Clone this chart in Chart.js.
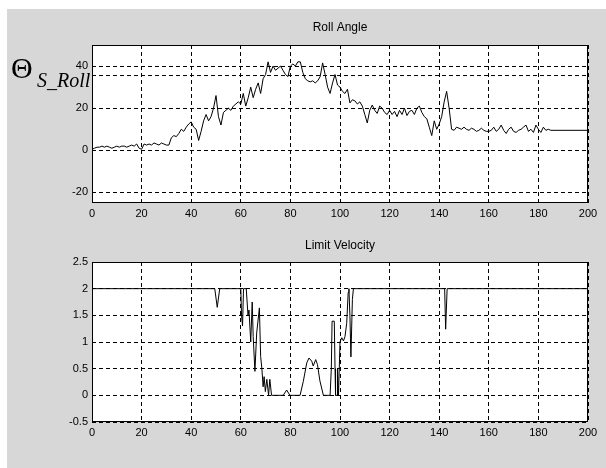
<!DOCTYPE html>
<html><head><meta charset="utf-8">
<script src="https://cdn.jsdelivr.net/npm/chart.js@4.4.0/dist/chart.umd.min.js"></script>
<style>
html,body{margin:0;padding:0;background:#fff;}
#wrap{position:relative;width:606px;height:468px;overflow:hidden;background:#fff;}
#bg{position:absolute;left:7px;top:9px;right:0;bottom:0;background:#d7d7d7;}
canvas{position:absolute;left:0;}
#c1{top:0;} #c2{top:234px;}
.lab{position:absolute;font-family:"Liberation Serif","DejaVu Serif",serif;color:#000;white-space:nowrap;}
</style></head><body>
<div id="wrap">
<div id="bg"></div>
<canvas id="c1" width="606" height="234" style="width:606px;height:234px"></canvas>
<canvas id="c2" width="606" height="234" style="width:606px;height:234px"></canvas>
<div class="lab" style="left:11px;top:53px;font-size:30px;line-height:30px;">Θ</div>
<div class="lab" style="left:37px;top:70px;font-size:20px;line-height:20px;font-style:italic;">S_Roll</div>
</div>
<script>
// ---- data ----
const xTicks = [0,20,40,60,80,100,120,140,160,180,200];
const rollTicks = [-20,0,20,40];
const velTicks = [-0.5,0,0.5,1,1.5,2,2.5];
const rollRefLevel = 35.5;
// roll angle sampled at t = 0,1,2,...,184
const rollAngle = [0.5,1,1.5,1.5,2,1.5,2,1.5,1,1.5,
 2,1.5,2,2,1.5,2,2.5,2,3,1,
 0.5,3,2.5,3,2.5,3.5,3,2.5,3.5,3,
 2.5,2.5,6,7,6.5,8,10,9,11,12.5,
 13.5,11,10,4.7,9,14,17,14,16,20,
 26,16,12,18,19,20,19,21,22,23,
 22,27,21,25,30,25,29,32,27,34,
 36,42,37,40,38,39,40,38,36,35,
 40,41,40,42,42,37,34,33,32.5,33,
 32,33,35,41.5,36,30,27,32,36,31,
 30,28,27,29,22.5,24,23.5,22,23,21,
 17,13,19,21.5,19,17.5,21,20,18,17,
 19,17,18.5,16,19,17,20,16.5,18.5,19,
 17,20,21,18,16,15,11,7,14,10,
 12.5,16,23,28,20,10,9.5,11,10.5,10,
 11,10,9.5,10.5,10,9,9.5,10.5,9.5,9,
 9,9.5,11,9,10,12,9.5,8,10,11,
 9,8.5,9.5,10,11,12,9,10,8.5,12,
 10,8.5,11,9.5,10];
const rollTailTime = [185,200];
const rollTailAngle = [9.5,9.5];
const velTime = [0,49.5,50.5,51.5,60,60.3,60.7,61.1,62.2,62.9,63.3,64,64.6,65,65.7,66.4,67.5,68,68.5,69,69.4,69.9,70.5,71.2,71.7,72.4,77.1,78.5,79.8,83.9,85.2,86.6,87.5,88.6,89.2,90.2,90.9,91.9,93.3,96,96.5,96.8,97.7,98,98.2,98.8,99,99.4,100,100.7,101.4,102,102.7,103.3,103.6,104,104.4,105,105.4,142.2,142.6,143.2,200];
const velLimit = [2,2,1.65,2,2,1.5,1.3,2,2,1.5,1.6,1.0,1.75,1.1,0.45,1.17,1.64,0.73,0.5,0.16,0.35,0.07,0.3,0,0.3,0,0,0.1,0,0,0.26,0.61,0.7,0.64,0.55,0.67,0.58,0.27,0,0,0.5,1.39,1.39,0.5,0,0,0.5,0,1.0,1.08,1.02,1.1,1.35,1.93,2,1.5,0.72,1.8,2,2,1.24,2,2];

// ---- build ----
const rollPts = rollAngle.map((v,i)=>({x:i,y:v})).concat(rollTailTime.map((t,i)=>({x:t,y:rollTailAngle[i]})));
const velPts = velTime.map((t,i)=>({x:t,y:velLimit[i]}));

const framePlugin = {
  id:'frame',
  beforeDraw(chart){ const {ctx, chartArea:a}=chart; ctx.save(); ctx.fillStyle='#fff'; ctx.fillRect(a.left,a.top,a.right-a.left,a.bottom-a.top); ctx.restore(); },
  afterDraw(chart){ const {ctx, chartArea:a}=chart; ctx.save(); ctx.strokeStyle='#000'; ctx.lineWidth=1; ctx.setLineDash([]);
    ctx.strokeRect(Math.round(a.left)+0.5, Math.round(a.top)+0.5, Math.round(a.right-a.left)-1, Math.round(a.bottom-a.top)-1); ctx.restore(); }
};
const tickFont = {family:'"Liberation Sans", Arial, sans-serif', size:11};
function makeChart(id, o){
  return new Chart(document.getElementById(id), {
    type:'line',
    data:{datasets:o.datasets},
    plugins:[framePlugin],
    options:{
      responsive:false, animation:false, events:[],
      layout:{padding:{left:0,right:18,top:0,bottom:0}},
      plugins:{legend:{display:false}, tooltip:{enabled:false},
        title:{display:true, text:o.title, fullSize:false, color:'#000',
          font:{family:'"Liberation Sans", Arial, sans-serif', size:12, weight:'normal', lineHeight:1.2},
          padding:{top:o.tp, bottom:o.tb}}},
      scales:{
        x:{type:'linear', min:0, max:200,
          afterBuildTicks:s=>{s.ticks = xTicks.map(v=>({value:v}));},
          afterFit:s=>{s.height=o.xh;},
          grid:{color:'#000', lineWidth:1, drawTicks:false},
          border:{display:false, dash:[4,3]},
          ticks:{color:'#000', font:tickFont, padding:4, maxRotation:0, autoSkip:false, callback:v=>String(v)}},
        y:{type:'linear', min:o.ymin, max:o.ymax,
          afterBuildTicks:s=>{s.ticks = o.yt.map(v=>({value:v}));},
          afterFit:s=>{s.width=92;},
          grid:{color:'#000', lineWidth:1, drawTicks:false},
          border:{display:false, dash:[4,3]},
          ticks:{color:'#000', font:tickFont, padding:4, autoSkip:false, callback:v=>String(v)}}
      }
    }
  });
}
const lineStyle = {borderColor:'#000', borderWidth:1, pointRadius:0, tension:0, fill:false};
makeChart('c1', {title:'Roll Angle', tp:20, tb:10.6, xh:31, ymin:-25, ymax:50, yt:rollTicks,
  datasets:[
    Object.assign({data:[{x:0,y:rollRefLevel},{x:200,y:rollRefLevel}], borderDash:[4,3]}, lineStyle),
    Object.assign({data:rollPts}, lineStyle)
  ]});
makeChart('c2', {title:'Limit Velocity', tp:4.8, tb:8.8, xh:46, ymin:-0.5, ymax:2.5, yt:velTicks,
  datasets:[Object.assign({data:velPts}, lineStyle)]});
</script>
</body></html>
